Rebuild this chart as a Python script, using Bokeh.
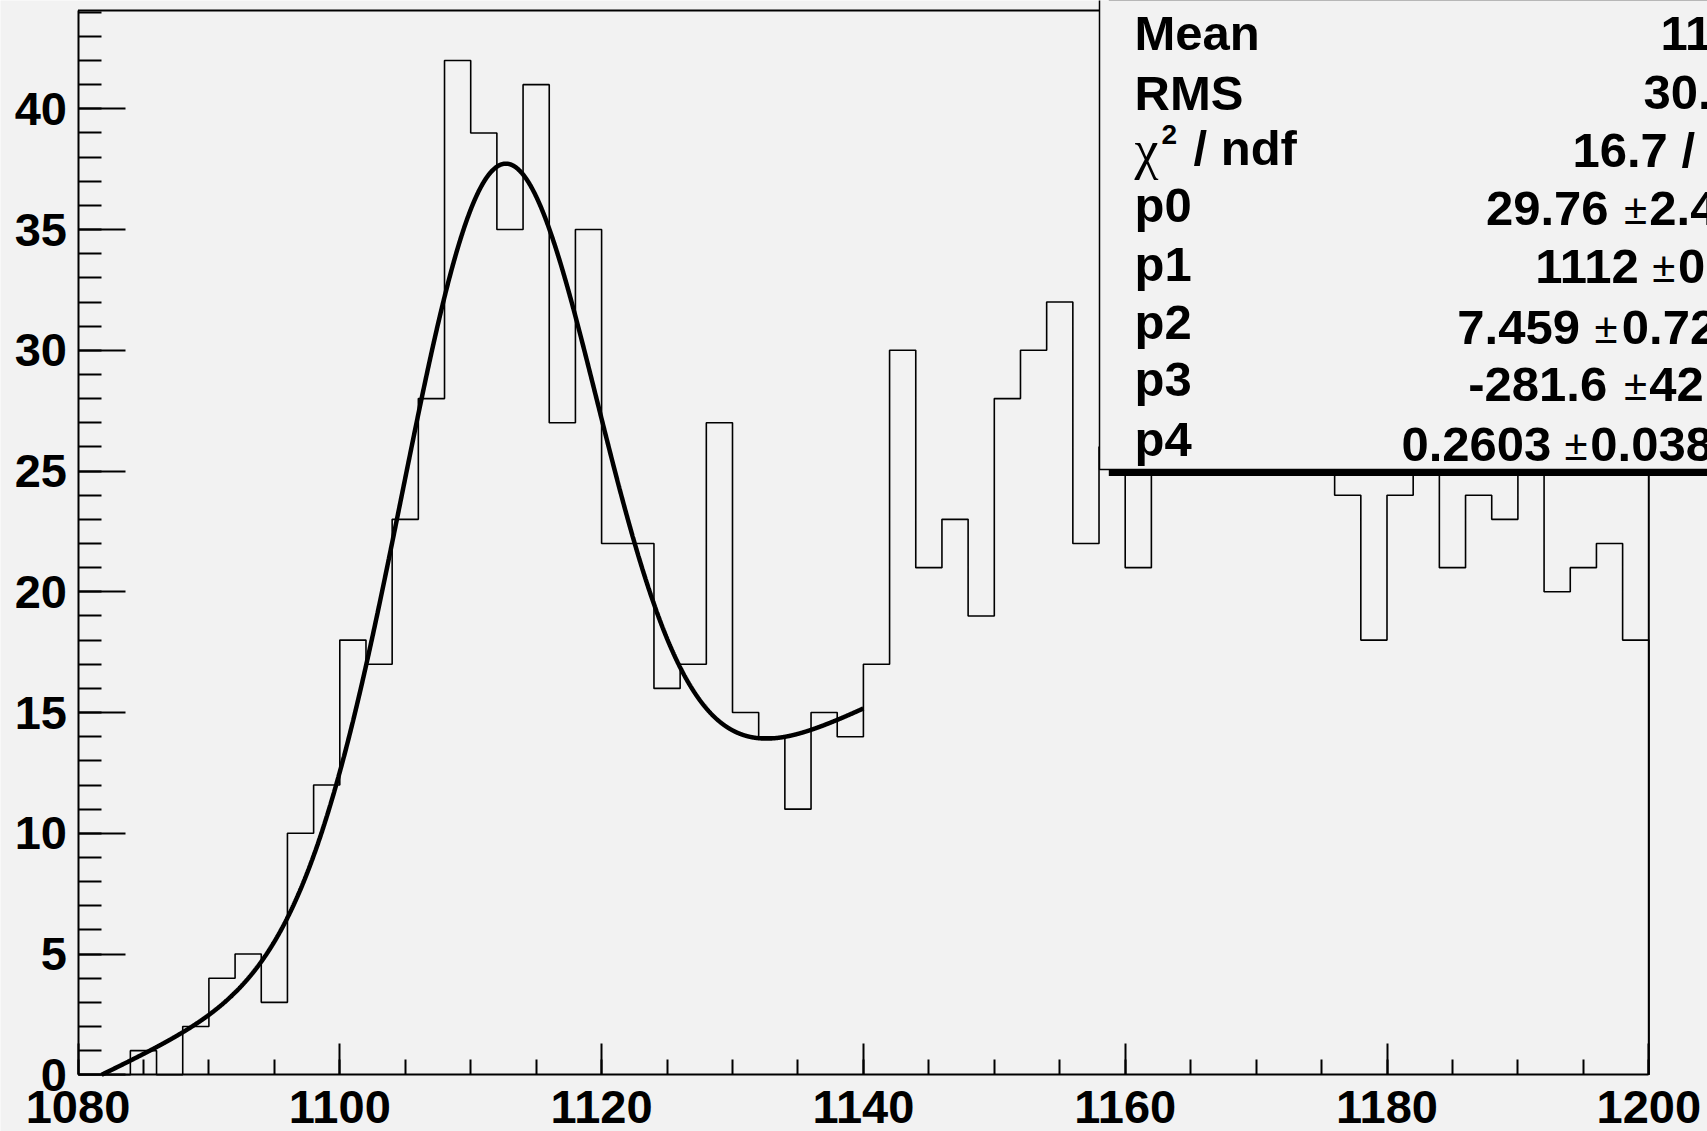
import numpy as np
from bokeh.plotting import figure
from bokeh.models import Range1d, SingleIntervalTicker, BoxAnnotation, Label
from bokeh.embed import file_html
from bokeh.resources import INLINE

# ---------------- data ----------------
bin_low_edges = list(range(1080, 1200, 2))          # 60 bins of width 2
bin_width = 2
counts = [0, 0, 1, 0, 2, 4, 5, 3, 10, 12,
          18, 17, 23, 28, 42, 39, 35, 41, 27, 35,
          22, 22, 16, 17, 27, 15, 14, 11, 15, 14,
          17, 30, 21, 23, 19, 28, 30, 32, 22, 26,
          21, 27, 29, 26, 31, 28, 26, 27, 24, 18,
          24, 27, 21, 24, 23, 27, 20, 21, 22, 18]

# fit: gaus(p0,p1,p2) + pol1(p3,p4), drawn over the fit range
fit_params = [29.76, 1112.2, 7.459, -281.6, 0.2603]
fit_range = [1080, 1140]

stat_names = ["Mean", "RMS", "/ ndf", "p0", "p1", "p2", "p3", "p4"]
stat_values = ["1143", "30.52", "16.7 / 24"]
par_values = ["29.76", "1112", "7.459", "-281.6", "0.2603"]
par_errors = ["2.47", "0.25", "0.725", "42.35", "0.0380"]

x_axis_limits = [1080, 1200]
x_ticks_major = 20
y_ticks_major = 5

# ---------------- geometry helpers (picture pixel -> data) ----------------
X0, SX = 77.5, 13.09      # x pixel of 1080, px per unit
Y0, SY = 1074.3, 24.15    # y pixel of 0, px per unit
def dx(px):
    return 1080 + (px - X0) / SX
def dy(py):
    return (Y0 - py) / SY

W, H = 1707, 1131
BG = "#f2f2f2"
FONT = "Liberation Sans"
y_top = dy(10)
TXT_SHIFT = 18   # label baseline correction (px)

# the frame covers the whole canvas; axes are pinned at x=1080 / y=0
p = figure(width=W, height=H, output_backend="svg", toolbar_location=None,
           x_range=Range1d(dx(0), dx(W)), y_range=Range1d(dy(H), dy(0)),
           min_border_left=0, min_border_right=0, min_border_top=0, min_border_bottom=0,
           background_fill_color=BG, border_fill_color=BG, outline_line_color=None)
p.title.visible = False
p.xgrid.visible = False
p.ygrid.visible = False

p.xaxis.ticker = SingleIntervalTicker(interval=x_ticks_major, num_minor_ticks=4)
p.yaxis.ticker = SingleIntervalTicker(interval=y_ticks_major, num_minor_ticks=5)
p.xaxis.fixed_location = 0
p.yaxis.fixed_location = x_axis_limits[0]
p.xaxis.bounds = (x_axis_limits[0], x_axis_limits[1])
p.yaxis.bounds = (0, y_top)
for ax in (p.xaxis, p.yaxis):
    ax.axis_line_width = 2
    ax.axis_line_color = "black"
    ax.major_tick_line_width = 2
    ax.minor_tick_line_width = 2
    ax.major_tick_out = 0
    ax.minor_tick_out = 0
    ax.major_label_text_font = FONT
    ax.major_label_text_font_style = "bold"
    ax.major_label_text_font_size = "47px"
    ax.major_label_text_color = "black"
p.xaxis.major_tick_in = 31
p.xaxis.minor_tick_in = 15
p.yaxis.major_tick_in = 47
p.yaxis.minor_tick_in = 23
p.xaxis.major_label_standoff = 16
p.yaxis.major_label_standoff = 11

# top and right frame lines
p.segment(x0=[x_axis_limits[0], x_axis_limits[1]], y0=[y_top, 0],
          x1=[x_axis_limits[1], x_axis_limits[1]], y1=[y_top, y_top],
          line_color="black", line_width=2)

# histogram outline
xs = bin_low_edges + [bin_low_edges[-1] + bin_width, bin_low_edges[-1] + bin_width]
ys = counts + [counts[-1], 0]
p.step(x=xs, y=ys, mode="after", line_color="black", line_width=1.6)

# fit curve (only the part inside the frame, y >= 0)
fx = np.linspace(fit_range[0], fit_range[1], 3000)
p0, p1, p2, p3, p4 = fit_params
fy = p0 * np.exp(-0.5 * ((fx - p1) / p2) ** 2) + p3 + p4 * fx
keep = fy >= 0
p.line(fx[keep], fy[keep], line_color="black", line_width=4.5)

# stat box (shadow + box)
p.add_layout(BoxAnnotation(left=dx(1108.3), right=dx(1900), bottom=dy(475.5), top=dy(-50),
                           fill_color="black", fill_alpha=1, line_color=None))
p.add_layout(BoxAnnotation(left=dx(1099), right=dx(1900), bottom=dy(469), top=dy(-50),
                           fill_color=BG, fill_alpha=1, line_color="black", line_width=1.5,
                           line_alpha=1))

def lab(text, px, py, size="49px", font=FONT, style="bold", align="left"):
    p.add_layout(Label(x=dx(px), y=dy(py - TXT_SHIFT), text=text, text_font=font,
                       text_font_style=style, text_font_size=size, text_align=align,
                       text_baseline="alphabetic", text_color="black"))

name_base = [50.7, 110, 165, 222.7, 281.7, 339, 396.7, 456]
for i, nm in enumerate(stat_names):
    if i == 2:
        lab("χ", 1134, 167, size="54px", font="Liberation Serif", style="normal")
        lab("2", 1161, 152, size="28px")
        lab(nm, 1193, name_base[i])
    else:
        lab(nm, 1134, name_base[i])

val_starts = [1660, 1643, 1572]
val_base = [50.5, 110, 167]
for v, sx, b in zip(stat_values, val_starts, val_base):
    lab(v, sx, b)

num_starts = [1485.5, 1534.7, 1456.8, 1467.8, 1400.9]
pm_centers = [1635, 1663.4, 1605.5, 1635, 1575.5]
err_starts = [1648.8, 1677.6, 1621.3, 1648.8, 1589.8]
par_base = [226, 284, 345, 401.7, 461.7]
for v, e, a, b, c, bl in zip(par_values, par_errors, num_starts, pm_centers, err_starts, par_base):
    lab(v, a, bl)
    lab("±", b, bl + 1, size="42px", style="normal", align="center")
    lab(e, c, bl)

open("out.html", "w").write(file_html(p, INLINE))
